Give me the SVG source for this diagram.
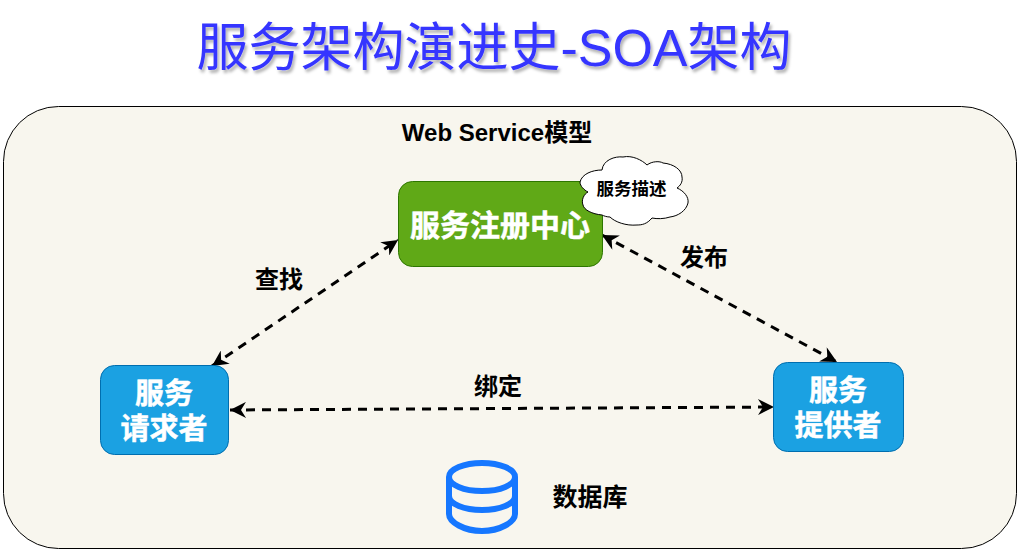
<svg xmlns="http://www.w3.org/2000/svg" width="1020" height="552" viewBox="0 0 1020 552">
<style>
text{font-family:"Liberation Sans","Noto Sans CJK SC",sans-serif;text-anchor:middle}
.b{font-weight:700;fill:#000}
.w{font-weight:700;fill:#fff;stroke:#fff;stroke-width:.5}
.c{fill:none;stroke:#000;stroke-width:3;stroke-dasharray:9 7;marker-start:url(#a);marker-end:url(#a)}
</style>
<defs>
<marker id="a" viewBox="0 0 18 16" refX="17" refY="8" markerWidth="18" markerHeight="16" markerUnits="userSpaceOnUse" orient="auto-start-reverse">
<path d="M17 8 L1 0 L6 8 L1 16 Z" fill="#000"/>
</marker>
<filter id="s" x="-5%" y="-20%" width="110%" height="140%"><feDropShadow dx="2" dy="3" stdDeviation="1.500" flood-color="#000" flood-opacity=".3"/></filter>
</defs>
<rect width="1020" height="552" fill="#fff"/>
<g id="title"><text x="494" y="66" font-size="52" fill="#3535ff" filter="url(#s)">服务架构演进史-SOA架构</text></g>
<g id="container"><rect x="3.500" y="106.500" width="1013" height="442" rx="55" fill="#f8f6ee" stroke="#000" stroke-width="1"/>
<text x="497" y="141" font-size="24" class="b">Web Service模型</text></g>
<g id="connectors">
<path class="c" d="M212 366 L398 240"/>
<path class="c" d="M602 235 L837 362"/>
<path class="c" d="M230 410 L774 407"/>
</g>
<g id="registry"><rect x="398.500" y="181.500" width="204" height="85" rx="14" fill="#60a917" stroke="#2d7600"/>
<text x="500" y="236" font-size="30" class="w">服务注册中心</text></g>
<g id="cloud"><path d="M580 182 C582 174 592 170 602 170 C603 160 615 156 623 157 C632 155 642 160 647 165 C652 161 660 161 663 163 C674 164 682 170 682 177 C683 182 680 186 677 188 C684 191 689 197 688 203 C686 211 678 216 670 217 C664 219 657 219 652 218 C647 224 642 225 637 225 C626 226 615 222 610 217 C607 217 604 216 602 215 C592 214 584 210 583 205 C581 200 584 194 588 192 C584 190 580 186 580 182 Z" fill="#fff" stroke="#000" stroke-width="1"/>
<text x="631.500" y="195" font-size="17.500" class="b">服务描述</text></g>
<g id="consumer"><rect x="100.500" y="365.500" width="128" height="89" rx="14" fill="#1ba1e2" stroke="#006eaf"/>
<text x="164" y="404" font-size="29" class="w">服务</text><text x="164" y="439" font-size="29" class="w">请求者</text></g>
<g id="provider"><rect x="773.500" y="362.500" width="130" height="89" rx="14" fill="#1ba1e2" stroke="#006eaf"/>
<text x="838" y="401" font-size="29" class="w">服务</text><text x="838" y="436" font-size="29" class="w">提供者</text></g>
<g id="labels">
<text x="279" y="288" font-size="24" class="b">查找</text>
<text x="704" y="266" font-size="24" class="b">发布</text>
<text x="498" y="395" font-size="24" class="b">绑定</text>
<text x="590" y="506" font-size="25" class="b">数据库</text>
</g>
<g id="database" fill="none" stroke="#1677ff" stroke-width="6">
<ellipse cx="482" cy="477" rx="33" ry="14"/>
<path d="M449 477 V514 C449 522 464 531 482 531 C500 531 515 522 515 514 V477"/>
<path d="M449 496 C449 504 464 510 482 510 C500 510 515 504 515 496"/>
</g>
</svg>
